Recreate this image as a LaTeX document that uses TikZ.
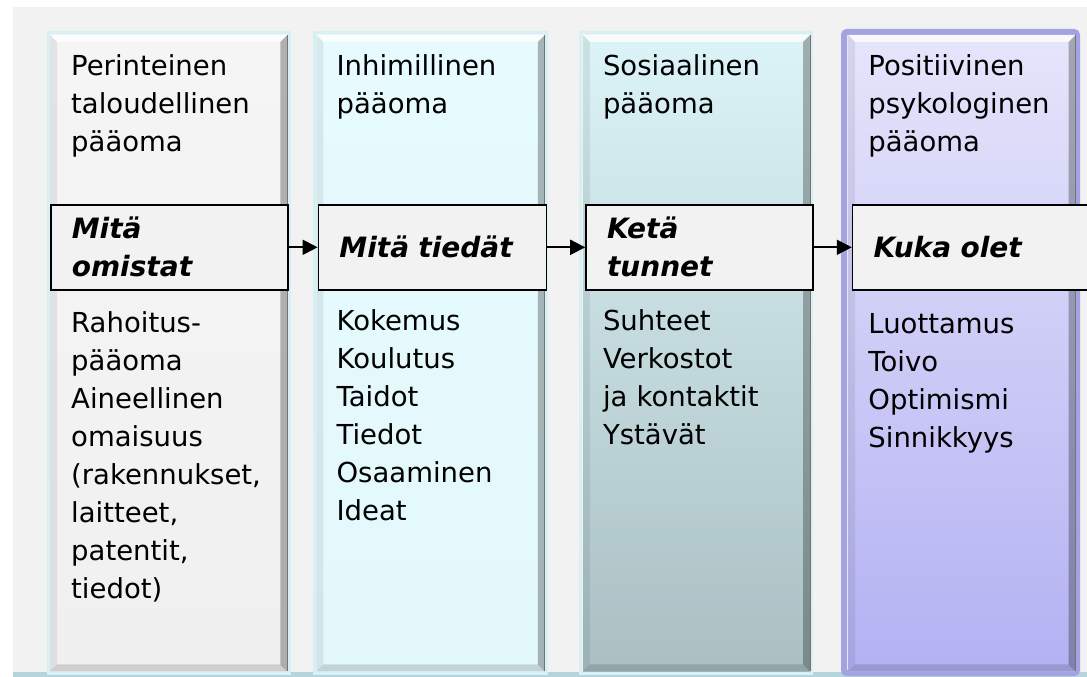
\documentclass[tikz,border=0pt]{standalone}
\usepackage{fontspec}
\setmainfont{DejaVu Sans}
\usetikzlibrary{arrows.meta,positioning}

\definecolor{panel}{HTML}{F2F2F2}
\definecolor{strip}{HTML}{B4D4DB}
\definecolor{boxgray}{HTML}{F2F2F2}
\definecolor{glowcyan}{HTML}{D6F0F4}
\definecolor{glowviolet}{HTML}{A3A2E2}
\definecolor{talousA}{HTML}{F5F5F5}
\definecolor{talousB}{HTML}{F0F0F0}
\definecolor{inhimA}{HTML}{E7FBFE}
\definecolor{inhimB}{HTML}{E3F8FB}
\definecolor{sosA}{HTML}{DCF3F7}
\definecolor{sosB}{HTML}{A9BFC2}
\definecolor{psykoA}{HTML}{E5E5FB}
\definecolor{psykoB}{HTML}{B3B1F2}

\begin{document}
\begin{tikzpicture}[x=1pt,y=-1pt]
        \tikzstyle{every node}=[inner sep=0pt]
        \tikzstyle{pillar} = [rectangle, anchor=north west, minimum height=636pt]
        \tikzstyle{keybox} = [draw=black, line width=1.6pt, fill=boxgray, anchor=north west,
                minimum height=85pt, inner xsep=21pt, align=left,
                font=\fontsize{28}{38}\selectfont\bfseries\itshape]
        \tikzstyle{words} = [anchor=base west, text width=205pt, align=left,
                font=\fontsize{27.5}{38}\selectfont]
        \tikzstyle{link} = [line width=1.8pt, -{Triangle[length=15pt,width=15pt]}]
        \useasboundingbox (0,0) rectangle (1087,677);
        \fill[panel] (13,7) rectangle (1087,677);
        \fill[strip] (13,672) rectangle (1087,677);
        % glow round the pillars
        \draw[glowcyan, line width=3pt] (48,33) rectangle (289,673);
        \draw[glowcyan, line width=3pt] (314,33) rectangle (546,673);
        \draw[glowcyan, line width=3pt] (580,33) rectangle (811,673);
        \draw[glowviolet, line width=6pt, rounded corners=3pt] (844,32) rectangle (1077,673);
        \node[pillar, minimum width=237pt, top color=talousA, bottom color=talousB](talous) at (50,35){};
        \node[pillar, minimum width=228pt, top color=inhimA, bottom color=inhimB](inhim)[right=29pt of talous.north east, anchor=north west]{};
        \node[pillar, minimum width=227pt, top color=sosA, bottom color=sosB](sos)[right=38pt of inhim.north east, anchor=north west]{};
        \node[pillar, minimum width=227pt, top color=psykoA, bottom color=psykoB](psyko)[right=38pt of sos.north east, anchor=north west]{};
        % bevelled edges
        \foreach \p in {talous,inhim,sos,psyko}{
                \fill[white, opacity=.75] (\p.north west) -- (\p.north east) -- ([shift={(-7,7)}]\p.north east) -- ([shift={(7,7)}]\p.north west) -- cycle;
                \fill[black, opacity=.28] (\p.north east) -- (\p.south east) -- ([shift={(-7,-7)}]\p.south east) -- ([shift={(-7,7)}]\p.north east) -- cycle;
                \fill[black, opacity=.14] (\p.south west) -- (\p.south east) -- ([shift={(-7,-7)}]\p.south east) -- ([shift={(7,-7)}]\p.south west) -- cycle;
                \fill[black, opacity=.07] (\p.north west) -- (\p.south west) -- ([shift={(7,-7)}]\p.south west) -- ([shift={(7,7)}]\p.north west) -- cycle;
                \draw[black!55, line width=1pt] (\p.north east) -- (\p.south east);
        }
        \node[keybox, minimum width=237pt, text width=195pt](omistat) at (50,204){Mitä\\omistat};
        \node[keybox, minimum width=228pt, text width=186pt](tiedat)[right=29pt of omistat.north east, anchor=north west]{Mitä tiedät};
        \node[keybox, minimum width=227pt, text width=185pt](tunnet)[right=38pt of tiedat.north east, anchor=north west]{Ketä\\tunnet};
        \node[keybox, minimum width=238pt, text width=196pt](olet)[right=38pt of tunnet.north east, anchor=north west]{Kuka olet};
        \draw[link] (omistat) -- (tiedat);
        \draw[link] (tiedat) -- (tunnet);
        \draw[link] (tunnet) -- (olet);
        % headings and contents
        \node[words, xshift=21pt, yshift=-41pt](talousH) at (talous.north west){Perinteinen\\taloudellinen\\pääoma};
        \node[words, xshift=20pt, yshift=-41pt](inhimH) at (inhim.north west){Inhimillinen\\pääoma};
        \node[words, xshift=20pt, yshift=-41pt](sosH) at (sos.north west){Sosiaalinen\\pääoma};
        \node[words, xshift=20pt, yshift=-41pt](psykoH) at (psyko.north west){Positiivinen\\psykologinen\\pääoma};
        \node[words, xshift=21pt, yshift=-297pt](talousL) at (talous.north west){Rahoitus-\\pääoma\\Aineellinen\\omaisuus\\(rakennukset,\\laitteet,\\patentit,\\tiedot)};
        \node[words, xshift=20pt, yshift=-295pt](inhimL) at (inhim.north west){Kokemus\\Koulutus\\Taidot\\Tiedot\\Osaaminen\\Ideat};
        \node[words, xshift=20pt, yshift=-295pt](sosL) at (sos.north west){Suhteet\\Verkostot\\ja kontaktit\\Ystävät};
        \node[words, xshift=20pt, yshift=-298pt](psykoL) at (psyko.north west){Luottamus\\Toivo\\Optimismi\\Sinnikkyys};
\end{tikzpicture}
\end{document}
